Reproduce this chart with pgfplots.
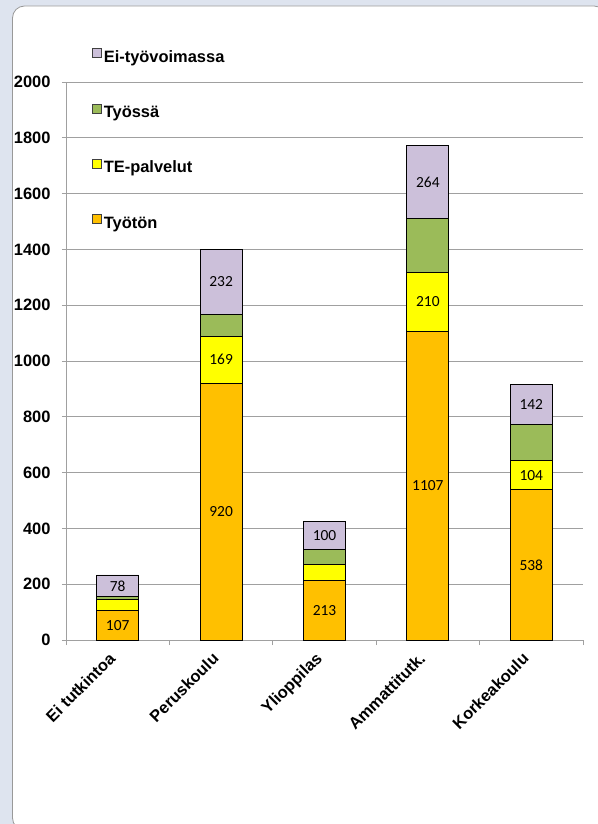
\documentclass[border=0pt]{standalone}
\usepackage{pgfplots}
\pgfplotsset{compat=1.18}
\usepackage{fontspec}
\setmainfont{Liberation Sans}
\newfontfamily\lblfont{Carlito}
\definecolor{bgcol}{RGB}{222,228,239}
\definecolor{cTyoton}{RGB}{255,192,0}
\definecolor{cTE}{RGB}{255,255,0}
\definecolor{cTyossa}{RGB}{155,187,89}
\definecolor{cEi}{RGB}{204,192,218}
\definecolor{gridc}{RGB}{160,160,160}
\begin{document}
\begin{tikzpicture}
\useasboundingbox (-66bp,-184bp) rectangle (532bp,640bp);
\fill[bgcol] (-66bp,-184bp) rectangle (532bp,640bp);
\draw[gray!80, fill=white, rounded corners=12bp, line width=0.8bp] (-53.5bp,-190bp) rectangle (540bp,634bp);
\begin{axis}[
  at={(0,0)}, anchor=south west,
  scale only axis, width=517bp, height=558bp,
  ybar stacked, bar width=42bp,
  xmin=-0.5, xmax=4.5, ymin=0, ymax=2000,
  xtick={0,...,4},
  xticklabels={Ei tutkintoa, Peruskoulu, Ylioppilas, Ammattitutk., Korkeakoulu},
  minor xtick={-0.5,0.5,...,4.5},
  ytick={0,200,...,2000},
  axis x line*=bottom, axis y line*=left,
  axis line style={gridc, line width=0.8bp, -},
  ymajorgrids, grid style={gridc, line width=0.8bp},
  tick align=outside,
  major tick length=4bp, minor tick length=5bp,
  major x tick style={draw=none},
  minor x tick style={gridc, line width=0.8bp},
  ytick style={gridc, line width=0.8bp},
  ticklabel style={font=\bfseries\fontsize{16.5}{19}\selectfont, text=black},
  /pgf/number format/assume math mode=true,
  /pgf/number format/1000 sep={},
  yticklabel style={xshift=-8bp},
  xticklabel style={rotate=45, anchor=north east, inner sep=1bp, xshift=-11bp, yshift=3bp},
  legend style={at={(0.0503,1.0606)}, anchor=north west, draw=none, fill=none, inner sep=0pt, row sep=36.5bp,
    font=\bfseries\fontsize{16.5}{19}\selectfont,
    nodes={inner sep=1bp, text height=12bp, text depth=4bp, anchor=west},
    /tikz/every odd column/.append style={column sep=1bp}},
  legend cell align=left,
  reverse legend,
  every axis plot post/.append style={legend image code/.code={\draw[#1, draw=black!75, line width=0.6bp] (0bp,0.5bp) rectangle (9bp,9.5bp);}},
]
\addplot[fill=cTyoton, draw=black, line width=0.9bp] coordinates {(0,107) (1,920) (2,213) (3,1107) (4,538)};
\addlegendentry{Työtön}
\addplot[fill=cTE, draw=black, line width=0.9bp] coordinates {(0,39) (1,169) (2,57) (3,210) (4,104)};
\addlegendentry{TE-palvelut}
\addplot[fill=cTyossa, draw=black, line width=0.9bp] coordinates {(0,9) (1,79) (2,55) (3,193) (4,132)};
\addlegendentry{Työssä}
\addplot[fill=cEi, draw=black, line width=0.9bp] coordinates {(0,78) (1,232) (2,100) (3,264) (4,142)};
\addlegendentry{Ei-työvoimassa}
\end{axis}
\begin{axis}[
  at={(0,0)}, anchor=south west,
  scale only axis, width=517bp, height=558bp,
  xmin=-0.5, xmax=4.5, ymin=0, ymax=2000, hide axis, clip=false,
  nodes near coords, nodes near coords align={center}, point meta=explicit symbolic,
  every node near coord/.append style={font=\lblfont\fontsize{15.5}{18}\selectfont, text=black, anchor=center, inner sep=0pt},
]
% labels at segment midpoints
\addplot[draw=none, mark=none] coordinates {(0,53.5) [107] (1,460) [920] (2,106.5) [213] (3,553.5) [1107] (4,269) [538]};
\addplot[draw=none, mark=none] coordinates {(1,1004.5) [169] (3,1212) [210] (4,590) [104]};
\addplot[draw=none, mark=none] coordinates {(0,194) [78] (1,1284) [232] (2,375) [100] (3,1642) [264] (4,845) [142]};
\end{axis}
\end{tikzpicture}
\end{document}
